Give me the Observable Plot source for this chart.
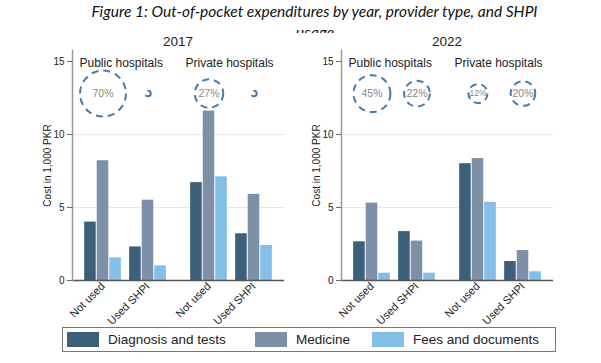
<!DOCTYPE html>
<html>
<head>
<meta charset="utf-8">
<script src="https://cdn.jsdelivr.net/npm/d3@7"></script>
<script src="https://cdn.jsdelivr.net/npm/@observablehq/plot@0.6"></script>
<style>
  body { margin: 0; background: #fff; }
  #wrap { position: relative; width: 601px; height: 363px; overflow: hidden; background: #fff;
          font-family: "Liberation Sans", Arial, sans-serif; color: #222; }
  .abs { position: absolute; }
  .year { position: absolute; top: 33px; width: 100px; text-align: center; font-size: 13.5px; line-height: 17px; color: #222; }
  .legbox { position: absolute; left: 62px; top: 327px; width: 494px; height: 25px; border: 1px solid #777; box-sizing: border-box; }
  .sw { position: absolute; top: 332px; width: 32px; height: 15px; }
  .lt { position: absolute; top: 331px; font-size: 13.5px; line-height: 17px; color: #222; white-space: nowrap; }
  svg text { font-family: "Liberation Sans", Arial, sans-serif; }
</style>
</head>
<body>
<div id="wrap"></div>
<script>
// ---------------- data ----------------
const titleLine1 = "Figure 1: Out-of-pocket expenditures by year, provider type, and SHPI";
const titleLine2 = "usage";
const years = ["2017", "2022"];
const hospitals = ["Public hospitals", "Private hospitals"];
const usage = ["Not used", "Used SHPI"];
const components = ["Diagnosis and tests", "Medicine", "Fees and documents"];
const yTicks = [0, 5, 10, 15];
const yLabel = "Cost in 1,000 PKR";

// order within each series: Public/Not used, Public/Used SHPI, Private/Not used, Private/Used SHPI
const diagnosis2017 = [4.0, 2.3, 6.7, 3.2];
const medicine2017  = [8.2, 5.5, 11.6, 5.9];
const fees2017      = [1.55, 1.0, 7.1, 2.4];
const diagnosis2022 = [2.65, 3.35, 8.0, 1.3];
const medicine2022  = [5.3, 2.7, 8.35, 2.05];
const fees2022      = [0.5, 0.5, 5.35, 0.6];

// share of households (circle size), with printed labels
const share2017 = [70, 1, 27, 1];
const shareLabel2017 = ["70%", "", "27%", ""];
const share2022 = [45, 22, 12, 20];
const shareLabel2022 = ["45%", "22%", "12%", "20%"];
const circleLevel = 12.8; // y value (thousand PKR) at which share circles sit

// ---------------- styles ----------------
const colors = ["#3d607a", "#7d90a8", "#85bfe8"];
const circleStroke = "#4a7aa8";
const FONT = "'Liberation Sans', Arial, sans-serif";

function makeRows(series) {
  const rows = [];
  hospitals.forEach((h, hi) => usage.forEach((u, ui) => components.forEach((c, ci) => {
    rows.push({hospital: h, usage: u, component: c, value: series[ci][hi * 2 + ui]});
  })));
  return rows;
}
function makeShares(shares, labels) {
  const rows = [];
  hospitals.forEach((h, hi) => usage.forEach((u, ui) => {
    rows.push({hospital: h, usage: u, share: shares[hi * 2 + ui], label: labels[hi * 2 + ui]});
  }));
  return rows;
}

const W = 300, H = 290, mL = 72, mR = 16, mT = 14, mB = 46;
const padIn = 0.162, padOut = 0.259;
const facetW = (W - mL - mR) / 2;
const step = facetW / (2 - padIn + 2 * padOut);
const band = step * (1 - padIn);
const third = band / 3;

function panel(rows, shares) {
  return Plot.plot({
    width: W, height: H,
    marginLeft: mL, marginRight: mR, marginTop: mT, marginBottom: mB,
    style: {background: "transparent", overflow: "visible", fontFamily: FONT, maxWidth: "none", color: "#222"},
    fx: {domain: hospitals, padding: 0, axis: null, round: false},
    x: {domain: usage, paddingInner: padIn, paddingOuter: padOut, round: false},
    y: {domain: [0, 15.75]},
    color: {domain: components, range: colors},
    r: {domain: [0, 70], range: [0, 23]},
    marks: [
      Plot.gridY([5, 10], {stroke: "#e8e8e8", strokeOpacity: 1}),
      ...components.map((c, k) => Plot.barY(rows.filter(d => d.component === c), {
        fx: "hospital", x: "usage", y: "value", fill: "component",
        insetLeft: k * third + 0.5, insetRight: (2 - k) * third + 0.5
      })),
      Plot.ruleY([0], {stroke: "#555", strokeWidth: 1.5}),
      Plot.frame({anchor: "left", facetAnchor: "left", stroke: "#999", strokeWidth: 1.5}),
      Plot.axisY({ticks: yTicks, tickSize: 5, tickPadding: 3, fontSize: 10, label: yLabel,
                  labelAnchor: "center", labelOffset: 29, labelArrow: "none", stroke: "#666", fill: "#222"}),
      Plot.axisX({tickRotate: -45, tickSize: 0, tickPadding: 4, fontSize: 11, label: null, fill: "#222"}),
      Plot.dot(shares, {fx: "hospital", x: "usage", y: () => circleLevel, r: "share",
                        stroke: circleStroke, strokeWidth: 2, strokeDasharray: "7,5", fill: "none"}),
      Plot.text(shares.filter(d => d.label), {fx: "hospital", x: "usage", y: () => circleLevel, text: "label",
                        fill: "#888", fontSize: d => d.share < 15 ? 8.5 : 10.5}),
      Plot.text(hospitals, {fx: d => d, text: d => d, frameAnchor: "top-left", textAnchor: "start",
                        dx: 7, dy: 8, fontSize: 12, fill: "#222"})
    ]
  });
}

const wrap = document.getElementById("wrap");

// title (second line is cut off by the chart, as in the source)
const ns = "http://www.w3.org/2000/svg";
const tsvg = document.createElementNS(ns, "svg");
tsvg.setAttribute("width", 601); tsvg.setAttribute("height", 32.5);
tsvg.setAttribute("class", "abs"); tsvg.style.left = "0px"; tsvg.style.top = "0px"; tsvg.style.overflow = "hidden";
function tText(str, x, y, anchor, len) {
  const t = document.createElementNS(ns, "text");
  t.textContent = str;
  t.setAttribute("x", x); t.setAttribute("y", y);
  t.setAttribute("style", "font-family: Lato, 'Open Sans', sans-serif; font-style: italic; font-size: 16px;");
  t.setAttribute("fill", "#111");
  if (anchor) t.setAttribute("text-anchor", anchor);
  if (len) { t.setAttribute("textLength", len); t.setAttribute("lengthAdjust", "spacingAndGlyphs"); }
  tsvg.appendChild(t);
}
tText(titleLine1, 91.5, 16.7, null, 446);
tText(titleLine2, 315, 37.5, "middle", null);
wrap.appendChild(tsvg);

const series = [[diagnosis2017, medicine2017, fees2017], [diagnosis2022, medicine2022, fees2022]];
const sharesAll = [makeShares(share2017, shareLabel2017), makeShares(share2022, shareLabel2022)];
const offsets = [0, 269];
years.forEach((yr, i) => {
  const chart = panel(makeRows(series[i]), sharesAll[i]);
  chart.style.position = "absolute";
  chart.style.left = offsets[i] + "px";
  chart.style.top = "36px";
  wrap.appendChild(chart);
  const lab = document.createElement("div");
  lab.className = "year";
  lab.textContent = yr;
  lab.style.left = (offsets[i] + mL + (W - mL - mR) / 2 - 50) + "px";
  wrap.appendChild(lab);
});

// legend
const box = document.createElement("div"); box.className = "legbox"; wrap.appendChild(box);
const swX = [67, 255, 372], txX = [108, 296, 413];
components.forEach((c, i) => {
  const s = document.createElement("div"); s.className = "sw";
  s.style.left = swX[i] + "px"; s.style.background = colors[i]; wrap.appendChild(s);
  const t = document.createElement("div"); t.className = "lt";
  t.style.left = txX[i] + "px"; t.textContent = c; wrap.appendChild(t);
});
</script>
</body>
</html>
